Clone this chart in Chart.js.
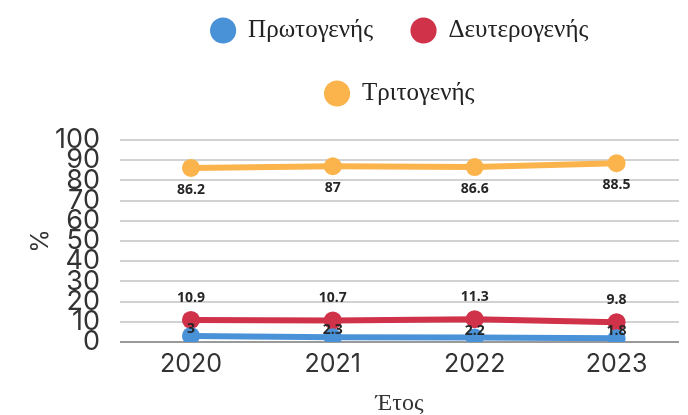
<!DOCTYPE html>
<html>
<head>
<meta charset="utf-8">
<script src="https://cdn.jsdelivr.net/npm/chart.js@4"></script>
<style>
  html, body { margin: 0; padding: 0; background: #fff; }
  #wrap { width: 688px; height: 415px; }
</style>
</head>
<body>
<div id="wrap"><canvas id="chart" width="688" height="415"></canvas></div>
<script>
// Chart data
const years = [2020, 2021, 2022, 2023];
const primary = [3, 2.3, 2.2, 1.8];
const secondary = [10.9, 10.7, 11.3, 9.8];
const tertiary = [86.2, 87, 86.6, 88.5];
const seriesNames = ["Πρωτογενής", "Δευτερογενής", "Τριτογενής"];
const yTicks = [0, 10, 20, 30, 40, 50, 60, 70, 80, 90, 100];

const colors = ["#4a92d8", "#cf3249", "#fbb44c"];
// vertical shift of the value labels for each series (px)
const labelShift = [-7, -22, 22];

function toPoints(values) {
  return years.map((y, i) => ({ x: y, y: values[i] }));
}

// Draw value labels next to each point
const valueLabels = {
  id: "valueLabels",
  afterDatasetsDraw(chart) {
    const ctx = chart.ctx;
    ctx.save();
    ctx.font = "bold 14px 'Open Sans'";
    ctx.fillStyle = "#262626";
    ctx.textAlign = "center";
    ctx.textBaseline = "middle";
    chart.data.datasets.forEach((ds, di) => {
      const meta = chart.getDatasetMeta(di);
      meta.data.forEach((pt, i) => {
        ctx.fillText(String(ds.data[i].y), pt.x, pt.y + labelShift[di]);
      });
    });
    ctx.restore();
  }
};

// Extra space under the legend
const legendSpace = {
  id: "legendSpace",
  beforeInit(chart) {
    const fit = chart.legend.fit;
    chart.legend.fit = function () {
      fit.bind(chart.legend)();
      this.height += 24;
    };
  }
};

const makeSet = (label, values, color) => ({
  label: label,
  data: toPoints(values),
  borderColor: color,
  backgroundColor: color,
  pointBackgroundColor: color,
  borderWidth: 6,
  pointRadius: 9,
  pointHoverRadius: 9,
  pointBorderWidth: 0,
  pointStyle: "circle",
  tension: 0
});

const chart = new Chart(document.getElementById("chart"), {
  type: "line",
  data: {
    datasets: [
      makeSet(seriesNames[0], primary, colors[0]),
      makeSet(seriesNames[1], secondary, colors[1]),
      makeSet(seriesNames[2], tertiary, colors[2])
    ]
  },
  plugins: [valueLabels, legendSpace],
  options: {
    responsive: false,
    animation: false,
    layout: { padding: { left: 0, right: 0, top: -20, bottom: -3 } },
    plugins: {
      tooltip: { enabled: false },
      legend: {
        position: "top",
        fullSize: false,
        labels: {
          usePointStyle: true,
          pointStyle: "circle",
          boxWidth: 25,
          boxHeight: 18.5,
          padding: 38,
          color: "#222",
          font: { family: "'Liberation Serif'", size: 25 }
        }
      }
    },
    scales: {
      x: {
        type: "linear",
        min: 2019.5,
        max: 2023.44,
        afterBuildTicks: (scale) => { scale.ticks = years.map(v => ({ value: v })); },
        afterFit: (scale) => { scale.height = 76; },
        grid: { display: false, drawTicks: false },
        border: { display: false },
        ticks: {
          padding: 10,
          color: "#333",
          font: { family: "Inter", size: 25, lineHeight: 1 },
          callback: (v) => String(v)
        },
        title: {
          display: true,
          text: "Έτος",
          color: "#333",
          font: { family: "'Liberation Serif'", size: 24 },
          padding: { top: 12, bottom: 0 }
        }
      },
      y: {
        min: 0,
        max: 100,
        afterBuildTicks: (scale) => { scale.ticks = yTicks.map(v => ({ value: v })); },
        afterFit: (scale) => { scale.width = 120; },
        grid: {
          drawTicks: false,
          color: (c) => c.tick && c.tick.value === 0 ? "#9a9a9a" : "#d2d2d2",
          lineWidth: 2
        },
        border: { display: false },
        ticks: {
          autoSkip: false,
          padding: 20,
          color: "#333",
          font: { family: "Inter", size: 27, lineHeight: 1 }
        },
        title: {
          display: true,
          text: "%",
          color: "#333",
          font: { family: "Inter", size: 24 },
          padding: { top: 26, bottom: 0 }
        }
      }
    }
  }
});
</script>
</body>
</html>
